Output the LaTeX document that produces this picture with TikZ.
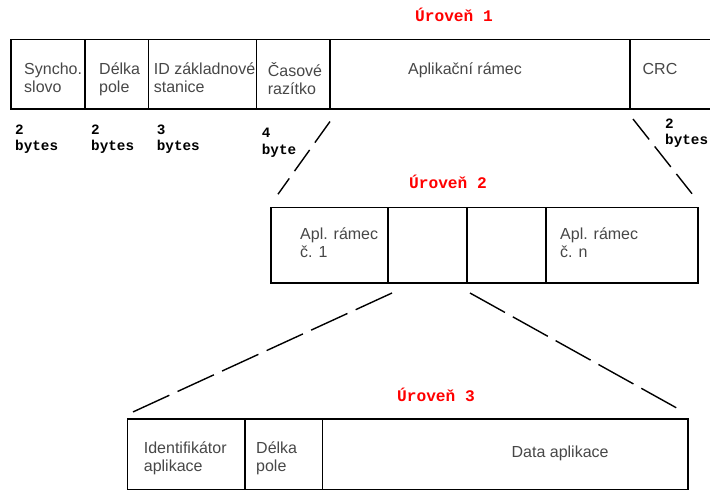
\documentclass[tikz,border=0pt]{standalone}
\usepackage{fontspec}
\setmainfont{Liberation Sans}
\newfontfamily\couriertt{Liberation Mono}
\usetikzlibrary{positioning}

\begin{document}
\begin{tikzpicture}[x=1pt,y=-1pt,node distance=0pt]

\tikzset{
    cell/.style={
        draw,
        line width=1.5pt,
        inner sep=0pt,
        outer sep=0pt,
        anchor=north west
    },
    field/.style={
        font=\fontsize{16}{18}\selectfont,
        text=black!72,
        align=left,
        inner sep=0pt,
        anchor=north west,
        execute at begin node=\rule{0pt}{15pt}
    },
    size/.style={
        font=\couriertt\bfseries\fontsize{14.3}{16.5}\selectfont,
        align=left,
        inner sep=0pt,
        anchor=north west,
        execute at begin node=\rule{0pt}{15pt}
    },
    level/.style={
        font=\couriertt\bfseries\fontsize{16.2}{18}\selectfont,
        text=red,
        inner sep=0pt,
        anchor=base
    },
    zoomline/.style={line width=1.4pt, dash pattern=on 26pt off 9pt},
    longzoom/.style={line width=1.4pt, dash pattern=on 40pt off 9pt}
}

\useasboundingbox (0,0) rectangle (710,491);

% level 1
\node[cell, minimum width=74pt, minimum height=69.5pt] (sync) at (11,39.5) {};
\node[cell, minimum width=63.7pt, minimum height=69.5pt, right=of sync] (len) {};
\node[cell, minimum width=108pt, minimum height=69.5pt, right=of len] (bsid) {};
\node[cell, minimum width=73.3pt, minimum height=69.5pt, right=of bsid] (stamp) {};
\node[cell, minimum width=300pt, minimum height=69.5pt, right=of stamp] (app) {};
\node[cell, minimum width=90pt, minimum height=69.5pt, right=of app] (crc) {};

\node[field, at={([xshift=13pt,yshift=-23pt]sync.north west)}] (syncT) {Syncho.\\slovo};
\node[field, at={([xshift=14pt,yshift=-23pt]len.north west)}] (lenT) {Délka\\pole};
\node[field, at={([xshift=5pt,yshift=-23pt]bsid.north west)}] (bsidT) {ID základnové\\stanice};
\node[field, at={([xshift=11pt,yshift=-23pt]stamp.north west)}] (stampT) {Časové\\razítko};
\node[field, anchor=north, at={([xshift=-15pt,yshift=-19.5pt]app.north)}] (appT) {Aplikační rámec};
\node[field, anchor=north, at={([xshift=30pt,yshift=-19.5pt]crc.north west)}] (crcT) {CRC};

\node[size, at={([xshift=4pt,yshift=-15.5pt]sync.south west)}] (syncB) {2\\bytes};
\node[size, at={([xshift=6pt,yshift=-15.5pt]len.south west)}] (lenB) {2\\bytes};
\node[size, at={([xshift=8pt,yshift=-15.5pt]bsid.south west)}] (bsidB) {3\\bytes};
\node[size, at={([xshift=5pt,yshift=-19pt]stamp.south west)}] (stampB) {4\\byte};
\node[size, at={([xshift=35pt,yshift=-9.5pt]crc.south west)}] (crcB) {2\\bytes};

\node[level] (lev1) at (454,21.5) {Úroveň 1};

% level 2
\node[cell, minimum width=117pt, minimum height=75.3pt] (apl1) at (271,207.7) {};
\node[cell, minimum width=79pt, minimum height=75.3pt, right=of apl1] (mid1) {};
\node[cell, minimum width=79pt, minimum height=75.3pt, right=of mid1] (mid2) {};
\node[cell, minimum width=152pt, minimum height=75.3pt, right=of mid2] (apln) {};

\node[field, at={([xshift=29pt,yshift=-20pt]apl1.north west)}] (apl1T) {Apl. rámec\\č. 1};
\node[field, at={([xshift=14pt,yshift=-20pt]apln.north west)}] (aplnT) {Apl. rámec\\č. n};

\node[level] (lev2) at (448,188) {Úroveň 2};

\draw[zoomline] ([yshift=-12.5pt]app.south west) -- ([xshift=7pt,yshift=13.5pt]apl1.north west);
\draw[zoomline] ([xshift=3pt,yshift=-10pt]crc.south west) -- ([xshift=-6pt,yshift=14pt]apln.north east);

% level 3
\node[cell, minimum width=117.3pt, minimum height=70.5pt] (ident) at (127.7,419) {};
\node[cell, minimum width=77.3pt, minimum height=70.5pt, right=of ident] (dlen) {};
\node[cell, minimum width=365.7pt, minimum height=70.5pt, right=of dlen] (data) {};

\node[field, at={([xshift=16pt,yshift=-22.5pt]ident.north west)}] (identT) {Identifikátor\\aplikace};
\node[field, at={([xshift=11pt,yshift=-22.5pt]dlen.north west)}] (dlenT) {Délka\\pole};
\node[field, anchor=north, at={([xshift=55pt,yshift=-23.5pt]data.north)}] (dataT) {Data aplikace};

\node[level] (lev3) at (436,401) {Úroveň 3};

\draw[longzoom] ([xshift=4pt,yshift=-10pt]mid1.south west) -- ([xshift=3pt,yshift=6pt]ident.north west);
\draw[longzoom] ([xshift=3pt,yshift=-10pt]mid2.south west) -- ([xshift=-5pt,yshift=7.5pt]data.north east);
    %
\end{tikzpicture}
\end{document}
